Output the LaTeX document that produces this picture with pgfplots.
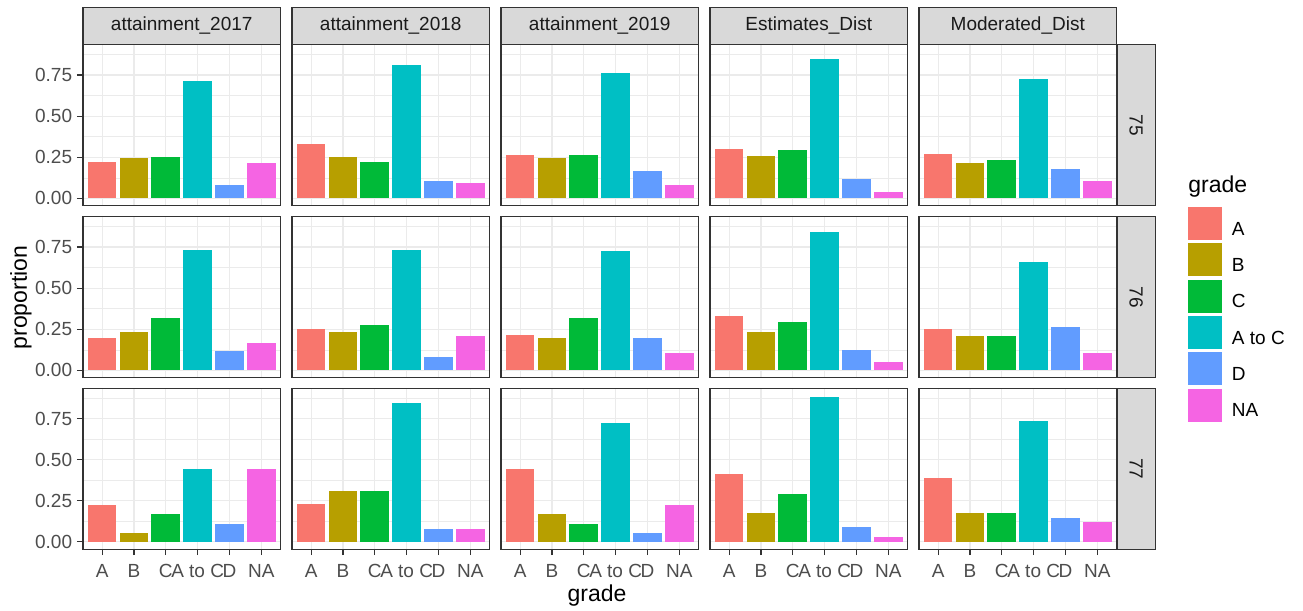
\documentclass[border=0pt]{standalone}
\usepackage{fontspec}
\setmainfont{Liberation Sans}
\usepackage{pgfplots}
\pgfplotsset{compat=1.18}
\usepackage{pgfplotstable}

% ggplot hue palette, 6 levels
\definecolor{g1}{HTML}{F8766D}
\definecolor{g2}{HTML}{B79F00}
\definecolor{g3}{HTML}{00BA38}
\definecolor{g4}{HTML}{00BFC4}
\definecolor{g5}{HTML}{619CFF}
\definecolor{g6}{HTML}{F564E3}
\definecolor{gray92}{HTML}{EBEBEB}
\definecolor{gray85}{HTML}{D9D9D9}
\definecolor{gray30}{HTML}{4D4D4D}
\definecolor{gray20}{HTML}{333333}
\definecolor{gray10}{HTML}{1A1A1A}

% x: 1=A 2=B 3=C 4=A to C 5=D 6=NA
\pgfplotstableread{
x a17 a18 a19 est mod
1 0.223 0.330 0.261 0.302 0.272
2 0.243 0.253 0.243 0.255 0.213
3 0.253 0.223 0.261 0.292 0.233
4 0.716 0.811 0.764 0.849 0.724
5 0.081 0.107 0.166 0.118 0.176
6 0.213 0.091 0.079 0.041 0.107
}\rowA
\pgfplotstableread{
x a17 a18 a19 est mod
1 0.195 0.253 0.213 0.328 0.253
2 0.233 0.233 0.195 0.233 0.207
3 0.320 0.274 0.320 0.292 0.207
4 0.734 0.734 0.724 0.839 0.659
5 0.118 0.081 0.195 0.126 0.264
6 0.166 0.207 0.107 0.051 0.107
}\rowB
\pgfplotstableread{
x a17 a18 a19 est mod
1 0.222 0.231 0.444 0.412 0.387
2 0.056 0.308 0.167 0.176 0.175
3 0.167 0.308 0.111 0.294 0.175
4 0.444 0.846 0.722 0.882 0.736
5 0.111 0.077 0.056 0.088 0.145
6 0.444 0.077 0.222 0.029 0.118
}\rowC

\tikzset{strip/.style={fill=gray85, draw=gray20, line width=0.6pt, inner sep=0pt,
  font=\fontsize{9.5}{11}\selectfont, text=gray10}}

\pgfplotsset{
  sqlegend/.style={legend image code/.code={\fill[##1] (0pt,-5pt) rectangle (17pt,11.5pt);}},
  panel/.style={
    scale only axis, width=98.75pt, height=80.5pt, anchor=north west,
    xmin=0.4, xmax=6.6, ymin=-0.0445, ymax=0.9345,
    ybar, bar width=0.9,
    xtick={1,2,3,4,5,6}, ytick={0,0.25,0.5,0.75},
    minor ytick={0.125,0.375,0.625,0.875},
    xticklabels={}, yticklabels={},
    grid=both,
    major grid style={gray92, line width=0.6pt},
    minor grid style={gray92, line width=0.3pt},
    axis line style={gray20, line width=0.6pt},
    tick align=outside, tick pos=left,
    major tick length=3pt, minor tick length=0pt,
    xtick style={draw=none}, ytick style={draw=none},
    ticklabel style={font=\fontsize{9.5}{11}\selectfont, text=gray30, inner sep=0pt},
    yticklabel style={anchor=east, xshift=-2.25pt},
    xticklabel style={anchor=north, yshift=-4.5pt},
    clip=false,
  },
  leftcol/.style={yticklabels={0.00,0.25,0.50,0.75},
    ytick style={draw=gray20, line width=0.6pt}},
  botrow/.style={xticklabels={A,B,C,A to C,D,NA},
    xtick style={draw=gray20, line width=0.6pt}},
  topstrip/.style={extra description/.append code={%
    \node[strip, minimum width=98.75pt, minimum height=18.35pt, anchor=south] at (0.5,1) {#1};}},
  rightstrip/.style={extra description/.append code={%
    \node[strip, rotate=-90, minimum width=80.5pt, minimum height=19pt, anchor=south] at (1,0.5) {#1};}},
}

% #1 x, #2 y (pt), #3 table, #4 column, #5 extra options
\newcommand{\facet}[5]{%
  \begin{axis}[panel, at={(#1pt,#2pt)}, #5]
    \pgfplotsinvokeforeach{1,...,6}{%
      \addplot[fill=g##1, draw=none, bar shift=0pt, sqlegend]
        table[x=x, y=#4, restrict x to domain=##1:##1] {#3};
    }
  \end{axis}%
}

\begin{document}
\begin{tikzpicture}
\path[use as bounding box] (0,0) rectangle (651.5pt,-305.5pt);

% row 75
\facet{41.5}{-22.35}{\rowA}{a17}{leftcol, topstrip=attainment\_2017}
\facet{146}{-22.35}{\rowA}{a18}{topstrip=attainment\_2018}
\facet{250.5}{-22.35}{\rowA}{a19}{topstrip=attainment\_2019}
\facet{355}{-22.35}{\rowA}{est}{topstrip=Estimates\_Dist}
\facet{459.5}{-22.35}{\rowA}{mod}{topstrip=Moderated\_Dist, rightstrip=75,
  legend entries={A,B,C,A to C,D,NA},
  legend style={at={(1.362,-0.0087)}, anchor=north west, draw=none, fill=none,
    inner sep=0pt, outer sep=0pt, row sep=1.65pt, column sep=5pt,
    nodes={inner sep=0pt, font=\fontsize{9.5}{11}\selectfont, text=black}},
  legend cell align=left}

% row 76
\facet{41.5}{-108.35}{\rowB}{a17}{leftcol}
\facet{146}{-108.35}{\rowB}{a18}{}
\facet{250.5}{-108.35}{\rowB}{a19}{}
\facet{355}{-108.35}{\rowB}{est}{}
\facet{459.5}{-108.35}{\rowB}{mod}{rightstrip=76}

% row 77
\facet{41.5}{-194.1}{\rowC}{a17}{leftcol, botrow}
\facet{146}{-194.1}{\rowC}{a18}{botrow}
\facet{250.5}{-194.1}{\rowC}{a19}{botrow}
\facet{355}{-194.1}{\rowC}{est}{botrow}
\facet{459.5}{-194.1}{\rowC}{mod}{botrow, rightstrip=77}

% axis titles and legend title
\node[rotate=90, font=\fontsize{11.5}{13}\selectfont, inner sep=0pt] at (10.5pt,-148.75pt) {proportion};
\node[font=\fontsize{11.5}{13}\selectfont, inner sep=0pt] at (298.5pt,-298pt) {grade};
\node[font=\fontsize{11.5}{13}\selectfont, inner sep=0pt, anchor=west] at (594pt,-93.5pt) {grade};
\end{tikzpicture}
\end{document}
